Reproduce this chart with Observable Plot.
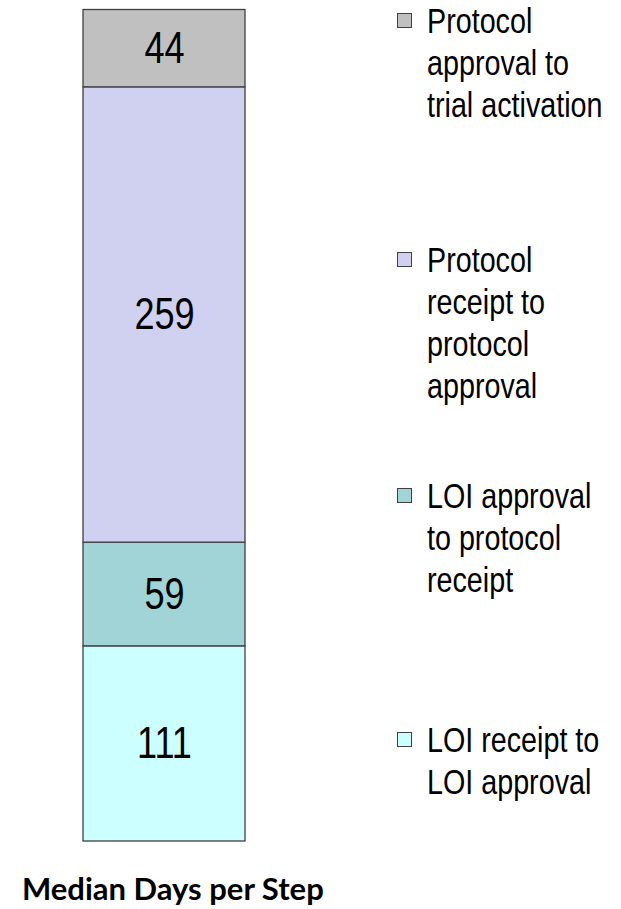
<!DOCTYPE html>
<html>
<head>
<meta charset="utf-8">
<script src="https://cdn.jsdelivr.net/npm/d3@7"></script>
<script src="https://cdn.jsdelivr.net/npm/@observablehq/plot@0.6"></script>
<style>
  html, body { margin: 0; padding: 0; background: #fff; }
  #wrap { position: relative; width: 621px; height: 909px; overflow: hidden; }
  #chart { position: absolute; left: 0; top: 0; }
  .legend-item { position: absolute; left: 397px; font-family: "Liberation Sans", Arial, sans-serif; font-size: 35px; line-height: 42px; color: #000; }
  .legend-item .sw { position: absolute; left: 0; top: 13px; width: 13px; height: 13px; border: 1px solid #404040; }
  .legend-item .tx { position: absolute; left: 30px; top: 0; white-space: nowrap; transform: scaleX(0.82); transform-origin: 0 0; }
  #title { position: absolute; left: 22px; top: 870px; font-family: Lato, "Open Sans", sans-serif; font-weight: 700; font-size: 31px; line-height: 36px; color: #000; white-space: nowrap; }
</style>
</head>
<body>
<div id="wrap">
  <div id="chart"></div>
  <div id="legend"></div>
  <div id="title"></div>
</div>
<script>
// Data (bottom of stack first)
const steps = ["LOI receipt to LOI approval", "LOI approval to protocol receipt", "Protocol receipt to protocol approval", "Protocol approval to trial activation"];
const days = [111, 59, 259, 44];
const colors = ["#CCFFFF", "#A0D4D7", "#D0D0F0", "#C0C0C0"];
const legendLines = [
  ["Protocol", "approval to", "trial activation"],
  ["Protocol", "receipt to", "protocol", "approval"],
  ["LOI approval", "to protocol", "receipt"],
  ["LOI receipt to", "LOI approval"]
];
const legendSteps = ["Protocol approval to trial activation", "Protocol receipt to protocol approval", "LOI approval to protocol receipt", "LOI receipt to LOI approval"];
const legendTops = [0, 242, 478, 722];
const chartTitle = "Median Days per Step";

const data = steps.map((s, i) => ({group: "Median Days per Step", step: s, days: days[i]}));

const plot = Plot.plot({
  width: 621,
  height: 850,
  marginLeft: 83,
  marginRight: 376,
  marginTop: 9.5,
  marginBottom: 9,
  x: {axis: null, domain: ["Median Days per Step"], padding: 0},
  y: {axis: null, domain: [0, d3.sum(days)]},
  color: {domain: steps, range: colors},
  style: {background: "transparent"},
  marks: [
    Plot.barY(data, Plot.stackY({x: "group", y: "days", fill: "step", stroke: "#404040", strokeWidth: 1.3, insetLeft: 0, insetRight: 0})),
    Plot.text(data, Plot.stackY({x: "group", y: "days", text: d => String(d.days), fontSize: 44, fill: "#000", fontFamily: "'Liberation Sans', Arial, sans-serif"}))
  ]
});
document.getElementById("chart").appendChild(plot);
// condense numbers like Arial Narrow
plot.querySelectorAll("text").forEach(t => {
  const w = t.getComputedTextLength();
  if (w > 0) {
    t.setAttribute("textLength", (w * 0.82).toFixed(1));
    t.setAttribute("lengthAdjust", "spacingAndGlyphs");
  }
});

const legend = document.getElementById("legend");
legendSteps.forEach((s, i) => {
  const item = document.createElement("div");
  item.className = "legend-item";
  item.style.top = Math.max(0, legendTops[i] - 3) + "px";
  const sw = document.createElement("div");
  sw.className = "sw";
  sw.style.background = colors[steps.indexOf(s)];
  const tx = document.createElement("div");
  tx.className = "tx";
  tx.innerHTML = legendLines[i].join("<br>");
  item.appendChild(sw);
  item.appendChild(tx);
  legend.appendChild(item);
});
document.getElementById("title").textContent = chartTitle;
</script>
</body>
</html>
